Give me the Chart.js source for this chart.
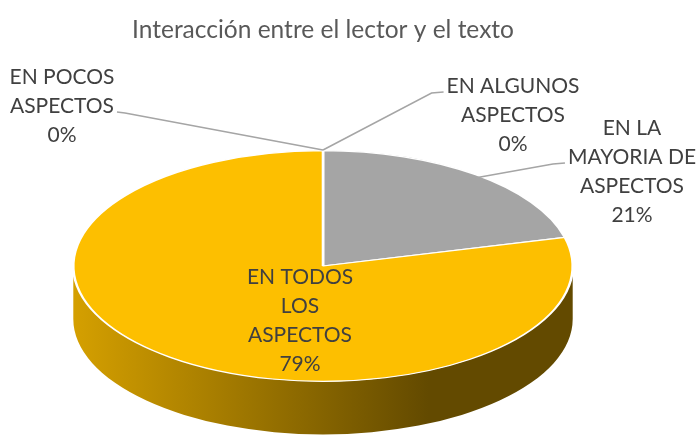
<!DOCTYPE html>
<html>
<head>
<meta charset="utf-8">
<script src="https://cdn.jsdelivr.net/npm/chart.js@4.4.1/dist/chart.umd.min.js"></script>
<style>
  html, body { margin: 0; padding: 0; background: #ffffff; }
  #wrap { width: 699px; height: 441px; position: relative; }
</style>
</head>
<body>
<div id="wrap"><canvas id="c" width="699" height="441"></canvas></div>
<script>
// ---- data ----
const titleText = 'Interacción entre el lector y el texto';
const categories = ['EN POCOS ASPECTOS', 'EN ALGUNOS ASPECTOS', 'EN LA MAYORIA DE ASPECTOS', 'EN TODOS LOS ASPECTOS'];
const labelLines = [['EN POCOS', 'ASPECTOS'], ['EN ALGUNOS', 'ASPECTOS'], ['EN LA', 'MAYORIA DE', 'ASPECTOS'], ['EN TODOS', 'LOS', 'ASPECTOS']];
const shares = [0, 0, 21, 79];
const shareLabels = ['0%', '0%', '21%', '79%'];

// ---- style ----
const sliceColors = ['#4472c4', '#ed7d31', '#a5a5a5', '#fdbf00'];
const FONT = 'Lato, "Open Sans", sans-serif';
const labelFontSize = 21;
const lineStep = 29;
const depth = 53;
// label layout: text block centre x, first line y, leader start (line index, side)
const labelPlace = [
  { x: 62, y: 77, line: 1, side: 'right', target: 'edge' },
  { x: 513, y: 86, line: 0, side: 'left', target: 'edge' },
  { x: 632, y: 128, line: 1, side: 'left', target: 'mid' },
  { x: 300, y: 277, line: -1 }
];

function shade(hex, f) {
  const n = parseInt(hex.slice(1), 16);
  const r = Math.round(((n >> 16) & 255) * f), g = Math.round(((n >> 8) & 255) * f), b = Math.round((n & 255) * f);
  return `rgb(${r},${g},${b})`;
}

function pieGeom(chart) {
  const a = chart.chartArea;
  const cx = (a.left + a.right) / 2, cy = (a.top + a.bottom) / 2;
  const ry = (a.bottom - a.top) / 2, rx = (a.right - a.left) / 2;
  return { cx, cy, rx, ry, sx: rx / ry };
}

const pie3d = {
  id: 'pie3d',
  beforeDatasetsDraw(chart) {
    const ctx = chart.ctx;
    const g = pieGeom(chart);
    ctx.save();
    ctx.translate(g.cx, g.cy);
    ctx.scale(g.sx, 1);
    ctx.translate(-g.cx, -g.cy);
    // side walls (front half only)
    const meta = chart.getDatasetMeta(0);
    meta.data.forEach((arc, i) => {
      const p = arc.getProps(['x', 'y', 'startAngle', 'endAngle', 'outerRadius']);
      let s = p.startAngle, e = p.endAngle;
      const segs = [[s, e], [s - 2 * Math.PI, e - 2 * Math.PI], [s + 2 * Math.PI, e + 2 * Math.PI]];
      segs.forEach(([a0, a1]) => {
        const s0 = Math.max(a0, 0), e0 = Math.min(a1, Math.PI);
        if (e0 <= s0) return;
        const r = p.outerRadius;
        const xl = g.cx - g.rx / g.sx, xr = g.cx + (g.rx * 0.42) / g.sx;
        const grad = ctx.createLinearGradient(xl, 0, xr, 0);
        grad.addColorStop(0, shade(sliceColors[i], 0.84));
        grad.addColorStop(1, shade(sliceColors[i], 0.39));
        ctx.beginPath();
        ctx.arc(p.x, p.y, r, s0, e0, false);
        ctx.arc(p.x, p.y + depth, r, e0, s0, true);
        ctx.closePath();
        ctx.fillStyle = grad;
        ctx.fill();
      });
    });
  },
  afterDatasetsDraw(chart) {
    const ctx = chart.ctx;
    ctx.restore();
    const g = pieGeom(chart);
    const meta = chart.getDatasetMeta(0);
    ctx.save();
    ctx.font = `${labelFontSize}px ${FONT}`;
    ctx.fillStyle = '#404040';
    ctx.textAlign = 'center';
    ctx.textBaseline = 'middle';
    labelLines.forEach((lines, i) => {
      const pl = labelPlace[i];
      const all = lines.concat([shareLabels[i]]);
      all.forEach((t, k) => ctx.fillText(t, pl.x, pl.y + k * lineStep));
      if (pl.line >= 0) {
        const arc = meta.data[i].getProps(['startAngle', 'endAngle', 'outerRadius']);
        let ang, rf;
        if (pl.target === 'edge') { ang = arc.startAngle; rf = 1; }
        else { ang = (arc.startAngle + arc.endAngle) / 2; rf = 0.95; }
        const tx = g.cx + Math.cos(ang) * g.rx * rf;
        const ty = g.cy + Math.sin(ang) * g.ry * rf;
        const w = ctx.measureText(all[pl.line]).width;
        const ly = pl.y + pl.line * lineStep + 6;
        const lx = pl.side === 'right' ? pl.x + w / 2 + 3 : pl.x - w / 2 - 3;
        const lx2 = pl.side === 'right' ? lx + 8 : lx - 12;
        ctx.strokeStyle = '#a5a5a5';
        ctx.lineWidth = 1.5;
        ctx.beginPath();
        ctx.moveTo(lx, ly);
        ctx.lineTo(lx2, ly + 1);
        ctx.lineTo(tx, ty);
        ctx.stroke();
      }
    });
    ctx.restore();
  }
};

new Chart(document.getElementById('c'), {
  type: 'pie',
  data: {
    labels: categories,
    datasets: [{
      data: shares,
      backgroundColor: sliceColors,
      borderColor: '#ffffff',
      borderWidth: 1.2,
      clip: false
    }]
  },
  options: {
    responsive: false,
    animation: false,
    events: [],
    layout: { padding: { left: 72, right: 125, top: 0, bottom: 59 } },
    plugins: {
      legend: { display: false },
      tooltip: { enabled: false },
      title: {
        display: true,
        text: titleText,
        color: '#595959',
        font: { family: FONT, size: 24.5, weight: 'normal', lineHeight: 1.2 },
        padding: { top: 15, bottom: 105.6 }
      }
    }
  },
  plugins: [pie3d]
});
</script>
</body>
</html>
